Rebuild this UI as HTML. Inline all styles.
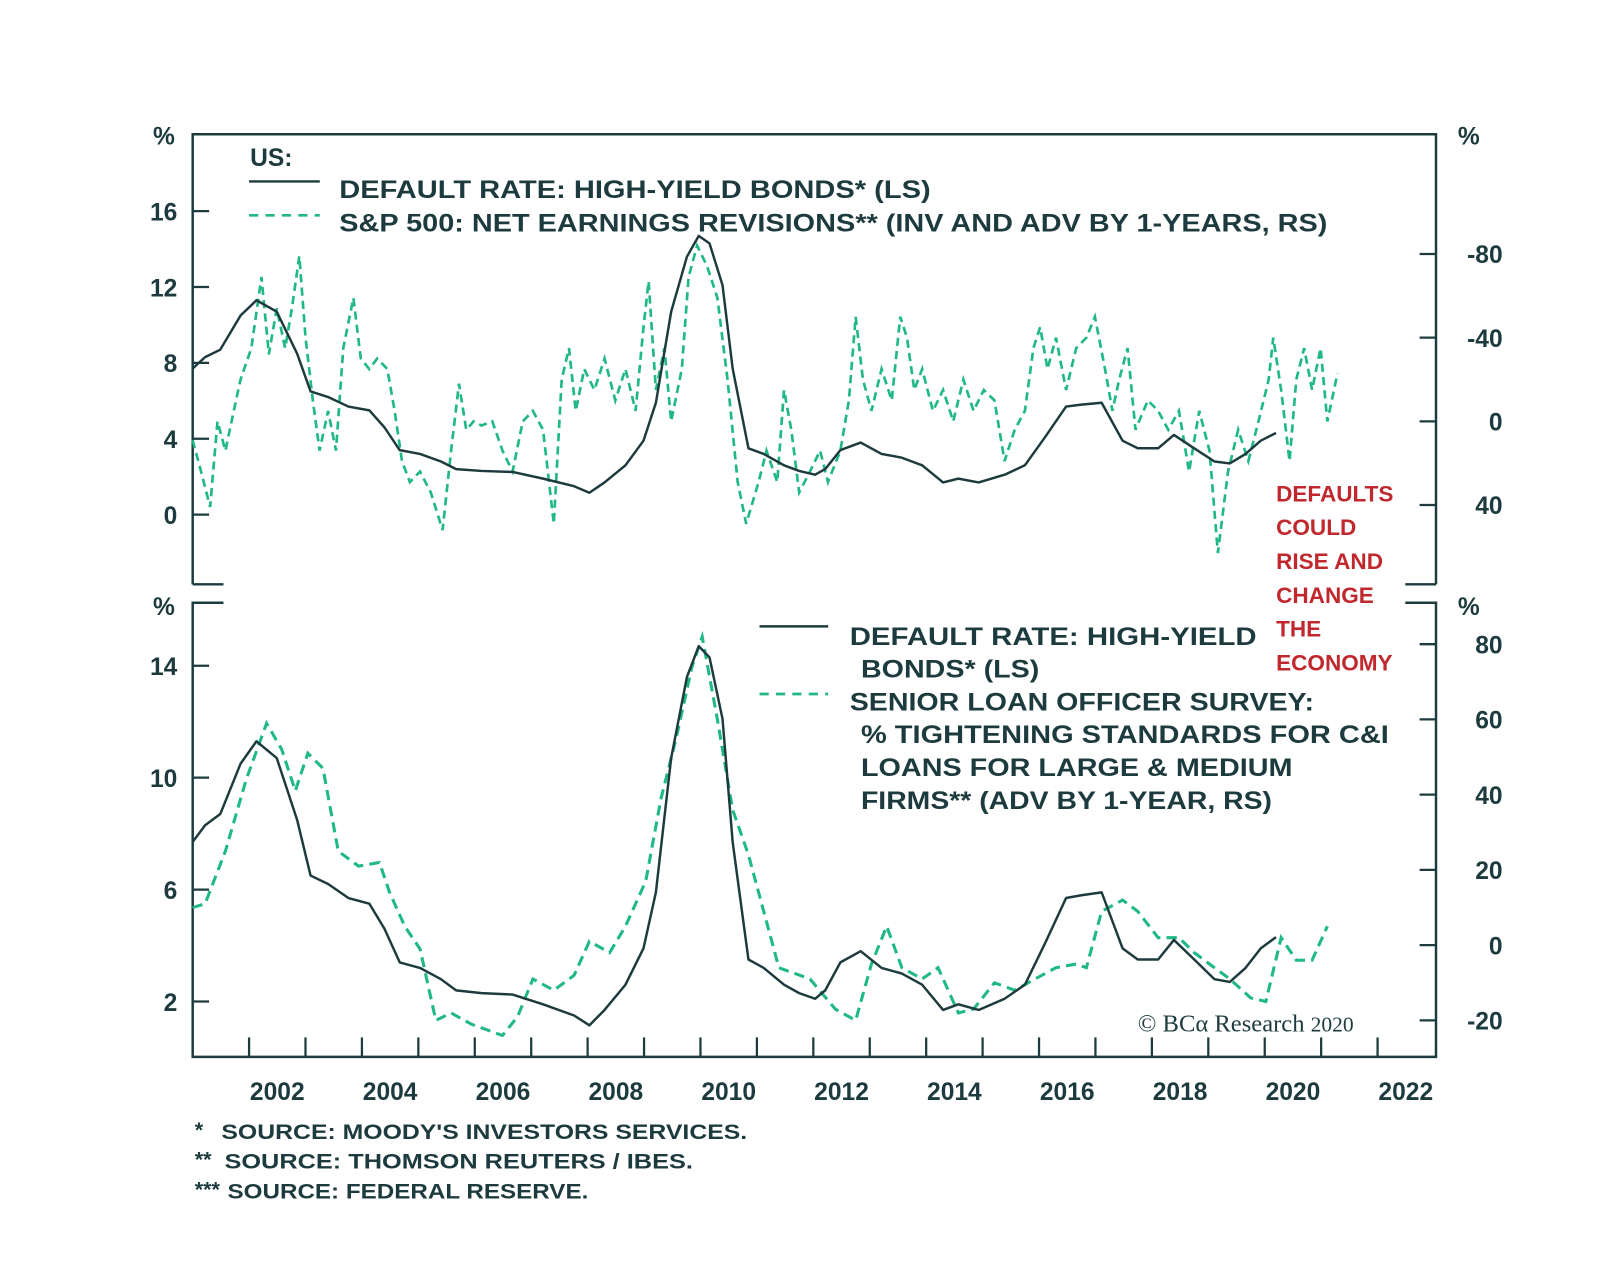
<!DOCTYPE html>
<html><head><meta charset="utf-8"><title>Defaults could rise</title>
<style>
html,body{margin:0;padding:0;background:#fff;}
svg{display:block;}
text{font-family:"Liberation Sans",Arial,sans-serif;font-weight:bold;fill:#1d3b3e;}
</style></head>
<body>
<svg id="chart" xmlns="http://www.w3.org/2000/svg" width="1600" height="1265" viewBox="0 0 1561 1234" preserveAspectRatio="none">
<rect x="0" y="0" width="1561" height="1234" fill="#fff"/>
<g id="frame" stroke="#1d3b3e" stroke-width="2.4" fill="none">
  <path d="M188,570 L188,131 L1401,131 L1401,570"/>
  <path d="M188,570 L218,570 M1371,570 L1401,570"/>
  <path d="M218,588 L188,588 L188,1031 L1401,1031 L1401,588 L1371,588"/>
</g>
<g id="axes"></g>
<g id="series"></g>
<g>
  <text x="244" y="162" font-size="24">US:</text>
  <line x1="243" y1="177" x2="312" y2="177" stroke="#1d3b3e" stroke-width="2.4"/>
  <text x="331" y="193" font-size="24" textLength="577" lengthAdjust="spacingAndGlyphs">DEFAULT RATE: HIGH-YIELD BONDS* (LS)</text>
  <line x1="243" y1="210" x2="312" y2="210" stroke="#20b886" stroke-width="2.6" stroke-dasharray="9,7"/>
  <text x="331" y="226" font-size="24" textLength="964" lengthAdjust="spacingAndGlyphs">S&amp;P 500: NET EARNINGS REVISIONS** (INV AND ADV BY 1-YEARS, RS)</text>
</g>
<g>
  <line x1="741" y1="611" x2="808" y2="611" stroke="#1d3b3e" stroke-width="2.4"/>
  <text x="829" y="629" font-size="24" textLength="397" lengthAdjust="spacingAndGlyphs">DEFAULT RATE: HIGH-YIELD</text>
  <text x="840" y="661" font-size="24" textLength="174" lengthAdjust="spacingAndGlyphs">BONDS* (LS)</text>
  <line x1="741" y1="677" x2="808" y2="677" stroke="#20b886" stroke-width="2.6" stroke-dasharray="9,7"/>
  <text x="829" y="693" font-size="24" textLength="453" lengthAdjust="spacingAndGlyphs">SENIOR LOAN OFFICER SURVEY:</text>
  <text x="840" y="725" font-size="24" textLength="515" lengthAdjust="spacingAndGlyphs">% TIGHTENING STANDARDS FOR C&amp;I</text>
  <text x="840" y="757" font-size="24" textLength="421" lengthAdjust="spacingAndGlyphs">LOANS FOR LARGE &amp; MEDIUM</text>
  <text x="840" y="789" font-size="24" textLength="401" lengthAdjust="spacingAndGlyphs">FIRMS** (ADV BY 1-YEAR, RS)</text>
</g>
<g font-size="22">
  <text x="1245" y="489" style="fill:#c0282d">DEFAULTS</text>
  <text x="1245" y="522" style="fill:#c0282d">COULD</text>
  <text x="1245" y="555" style="fill:#c0282d">RISE AND</text>
  <text x="1245" y="588" style="fill:#c0282d">CHANGE</text>
  <text x="1245" y="621" style="fill:#c0282d">THE</text>
  <text x="1245" y="654" style="fill:#c0282d">ECONOMY</text>
</g>
<text x="1110" y="1006" font-size="24" style="font-family:'Liberation Serif',serif;font-weight:normal">© BCα Research <tspan font-size="21">2020</tspan></text>
<g font-size="21">
  <text x="190" y="1109">*</text>
  <text x="216" y="1111" textLength="513" lengthAdjust="spacingAndGlyphs">SOURCE: MOODY'S INVESTORS SERVICES.</text>
  <text x="190" y="1138">**</text>
  <text x="219" y="1140" textLength="457" lengthAdjust="spacingAndGlyphs">SOURCE: THOMSON REUTERS / IBES.</text>
  <text x="190" y="1167">***</text>
  <text x="222" y="1169" textLength="352" lengthAdjust="spacingAndGlyphs">SOURCE: FEDERAL RESERVE.</text>
</g>
</svg>
<script>
const defaultDates=[2001.00,2001.22,2001.49,2001.85,2002.13,2002.49,2002.85,2003.09,2003.40,2003.76,2004.13,2004.40,2004.67,2005.03,2005.40,2005.67,2006.12,2006.67,2007.21,2007.76,2008.03,2008.30,2008.67,2008.99,2009.21,2009.48,2009.76,2009.97,2010.16,2010.39,2010.57,2010.85,2011.12,2011.48,2011.75,2012.03,2012.21,2012.48,2012.84,2013.21,2013.57,2013.93,2014.30,2014.57,2014.93,2015.39,2015.75,2016.11,2016.48,2016.75,2017.11,2017.48,2017.75,2018.11,2018.39,2018.75,2019.11,2019.38,2019.66,2019.93,2020.20];
const defaultValues=[7.7,8.3,8.7,10.5,11.3,10.7,8.5,6.5,6.2,5.7,5.5,4.6,3.4,3.2,2.8,2.4,2.3,2.25,1.9,1.5,1.15,1.7,2.6,3.9,5.9,10.7,13.6,14.7,14.3,12.1,7.7,3.5,3.2,2.6,2.3,2.1,2.4,3.4,3.8,3.2,3.0,2.6,1.7,1.9,1.7,2.1,2.6,4.1,5.7,5.8,5.9,3.9,3.5,3.5,4.2,3.5,2.8,2.7,3.2,3.9,4.3];
const revisionDates=[2001.00,2001.13,2001.31,2001.44,2001.58,2001.73,2001.85,2002.04,2002.22,2002.35,2002.49,2002.64,2002.76,2002.89,2003.00,2003.13,2003.25,2003.40,2003.54,2003.67,2003.85,2003.98,2004.13,2004.27,2004.45,2004.58,2004.71,2004.85,2005.03,2005.22,2005.43,2005.58,2005.72,2005.85,2005.98,2006.12,2006.31,2006.49,2006.67,2006.85,2007.03,2007.21,2007.40,2007.54,2007.67,2007.79,2007.94,2008.12,2008.30,2008.49,2008.67,2008.85,2008.99,2009.08,2009.21,2009.36,2009.48,2009.67,2009.79,2009.94,2010.12,2010.30,2010.48,2010.66,2010.81,2011.03,2011.17,2011.36,2011.48,2011.61,2011.75,2011.94,2012.12,2012.26,2012.48,2012.63,2012.75,2012.88,2013.03,2013.21,2013.39,2013.54,2013.66,2013.79,2013.93,2014.12,2014.30,2014.48,2014.66,2014.84,2015.02,2015.21,2015.39,2015.57,2015.75,2015.90,2016.02,2016.15,2016.30,2016.48,2016.66,2016.84,2016.99,2017.17,2017.30,2017.42,2017.57,2017.71,2017.93,2018.11,2018.29,2018.48,2018.66,2018.84,2019.02,2019.17,2019.35,2019.53,2019.71,2019.89,2020.07,2020.15,2020.29,2020.44,2020.56,2020.70,2020.84,2020.99,2021.11,2021.29];
const revisionValues=[9,22,41,0,14,-5,-20,-35,-69,-32,-54,-35,-54,-79,-40,-10,14,-5,14,-35,-59,-30,-25,-30,-25,-5,19,29,24,34,52,14,-18,4,0,2,0,14,24,0,-5,4,49,-20,-35,-5,-25,-15,-30,-10,-25,-5,-45,-67,-15,-35,0,-25,-69,-84,-74,-59,-20,29,49,29,14,29,-15,4,34,24,14,29,14,-10,-50,-20,-5,-25,-10,-50,-40,-15,-25,-5,-15,0,-20,-5,-15,-10,19,4,-5,-35,-45,-25,-40,-15,-35,-40,-50,-25,-5,-20,-35,4,-10,-5,4,-5,24,-5,14,63,24,4,19,0,-20,-40,-15,19,-20,-35,-15,-35,0,-23];
const surveyDates=[2001.00,2001.22,2001.58,2001.95,2002.31,2002.58,2002.82,2003.04,2003.31,2003.58,2003.94,2004.31,2004.49,2004.76,2005.03,2005.31,2005.58,2005.94,2006.49,2006.76,2007.03,2007.40,2007.76,2008.03,2008.39,2008.67,2009.03,2009.30,2009.57,2009.85,2010.03,2010.30,2010.57,2010.85,2011.12,2011.39,2011.94,2012.39,2012.75,2013.03,2013.30,2013.57,2013.93,2014.21,2014.57,2014.84,2015.21,2015.57,2015.93,2016.30,2016.66,2016.84,2017.11,2017.48,2017.75,2018.11,2018.48,2018.75,2019.11,2019.38,2019.75,2020.02,2020.29,2020.56,2020.84,2021.11];
const surveyValues=[10,11,25,44,59,52,41,51,47,25,21,22,14,5,-1,-20,-18,-21,-24,-19,-9,-12,-8,1,-2,5,17,39,55,74,82,60,36,24,9,-6,-9,-17,-20,-5,5,-6,-9,-6,-18,-17,-10,-12,-9,-6,-5,-6,9,12,9,2,2,-2,-6,-9,-14,-15,2,-4,-4,5];
const topLeftTicks=[0,4,8,12,16];
const topRightTicks=[-80,-40,0,40];
const botLeftTicks=[2,6,10,14];
const botRightTicks=[-20,0,20,40,60,80];
const yearTicks=[2002,2003,2004,2005,2006,2007,2008,2009,2010,2011,2012,2013,2014,2015,2016,2017,2018,2019,2020,2021,2022];
const yearLabels=[2002,2004,2006,2008,2010,2012,2014,2016,2018,2020,2022];

const NS='http://www.w3.org/2000/svg';
const X=t=>243+(t-2002)*55.05;
const yTL=v=>502-v*18.5;
const yTR=v=>411+v*2.04;
const yBL=v=>977-(v-2)*27.3;
const yBR=v=>922-v*3.67;
const axes=document.getElementById('axes');
const series=document.getElementById('series');
function mk(tag,attrs,parent){const e=document.createElementNS(NS,tag);for(const k in attrs)e.setAttribute(k,attrs[k]);parent.appendChild(e);return e;}
const C='#1d3b3e';
function txt(x,y,s,anchor,name){const t=mk('text',{x:x,y:y,'font-size':24,'text-anchor':anchor},axes);t.textContent=s;


return t;}
topLeftTicks.forEach(v=>{const l=mk('line',{x1:188,x2:204,y1:yTL(v),y2:yTL(v),stroke:C,'stroke-width':2.2},axes);


txt(173,yTL(v)+9,String(v),'end','top-left-tick-label');});
topRightTicks.forEach(v=>{const l=mk('line',{x1:1385,x2:1401,y1:yTR(v),y2:yTR(v),stroke:C,'stroke-width':2.2},axes);


txt(1466,yTR(v)+9,String(v),'end','top-right-tick-label');});
botLeftTicks.forEach(v=>{const l=mk('line',{x1:188,x2:204,y1:yBL(v),y2:yBL(v),stroke:C,'stroke-width':2.2},axes);


txt(173,yBL(v)+9,String(v),'end','bottom-left-tick-label');});
botRightTicks.forEach(v=>{const l=mk('line',{x1:1385,x2:1401,y1:yBR(v),y2:yBR(v),stroke:C,'stroke-width':2.2},axes);


txt(1466,yBR(v)+9,String(v),'end','bottom-right-tick-label');});
yearTicks.forEach(t=>{const l=mk('line',{x1:X(t),x2:X(t),y1:1031,y2:1012,stroke:C,'stroke-width':2.2},axes);

});
yearLabels.forEach(t=>{txt(X(t+0.5),1073,String(t),'middle','x-tick-label');});
[['%',160,141,'left-unit-top'],['%',1433,141,'right-unit-top'],['%',160,600,'left-unit-bottom'],['%',1433,600,'right-unit-bottom']].forEach(a=>{txt(a[1],a[2],a[0],'middle',a[3]);});

function path(dates,vals,ys){return dates.map((d,i)=>(i?'L':'M')+X(d).toFixed(1)+','+ys(vals[i]).toFixed(1)).join(' ');}
const p1=mk('path',{d:path(revisionDates,revisionValues,yTR),fill:'none',stroke:'#20b886','stroke-width':2.6,'stroke-dasharray':'8,5'},series);


const p2=mk('path',{d:path(defaultDates,defaultValues,yTL),fill:'none',stroke:C,'stroke-width':2.4,'stroke-linejoin':'round'},series);


const p3=mk('path',{d:path(surveyDates,surveyValues,yBR),fill:'none',stroke:'#20b886','stroke-width':3,'stroke-dasharray':'10,6'},series);


const p4=mk('path',{d:path(defaultDates,defaultValues,yBL),fill:'none',stroke:C,'stroke-width':2.4,'stroke-linejoin':'round'},series);


</script>
</body></html>
